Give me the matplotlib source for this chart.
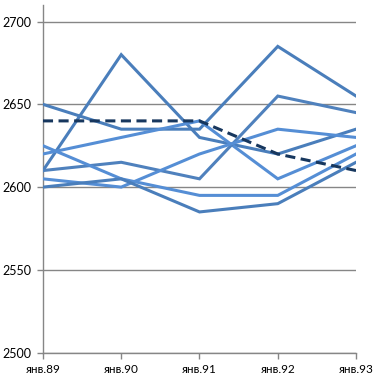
import matplotlib.pyplot as plt

years = ["янв.89", "янв.90", "янв.91", "янв.92", "янв.93"]

s1 = [2610, 2680, 2630, 2620, 2635]
s2 = [2650, 2635, 2635, 2685, 2655]
s3 = [2620, 2630, 2640, 2605, 2625]
s4 = [2610, 2615, 2605, 2655, 2645]
s5 = [2605, 2600, 2620, 2635, 2630]
s6 = [2625, 2605, 2595, 2595, 2620]
s7 = [2600, 2605, 2585, 2590, 2615]
avg = [2640, 2640, 2640, 2620, 2610]

colors = ["#4A7EBB", "#4A7EBB", "#558ED5", "#4F81BD", "#558ED5", "#558ED5", "#4A7EBB"]

plt.rcParams['font.family'] = ['Lato', 'DejaVu Sans']

fig = plt.figure(figsize=(3.87, 3.85), dpi=100)
ax = fig.add_axes([0.111, 0.084, 0.809, 0.903])

x = list(range(len(years)))
for s, c in zip([s1, s2, s3, s4, s5, s6, s7], colors):
    ax.plot(x, s, color=c, lw=2.2, solid_joinstyle='miter', zorder=3)
ax.plot(x, avg, color="#17375E", lw=2.2, dashes=(3.3, 1.8), zorder=4)

ax.set_xlim(0, 4)
ax.set_ylim(2500, 2710)
ax.set_yticks([2500, 2550, 2600, 2650, 2700])
ax.set_xticks(x)
ax.set_xticklabels(years)
ax.grid(axis='y', color="#868686", lw=1)
ax.set_axisbelow(True)

for sp in ['top', 'right']:
    ax.spines[sp].set_visible(False)
for sp in ['left', 'bottom']:
    ax.spines[sp].set_color("#868686")
    ax.spines[sp].set_linewidth(1)

ax.tick_params(axis='both', colors="#868686", length=4, width=1, labelcolor="black")
ax.tick_params(axis='x', labelsize=8.5, pad=4)
ax.tick_params(axis='y', labelsize=9, pad=4)

fig.savefig("out.png", dpi=100)
